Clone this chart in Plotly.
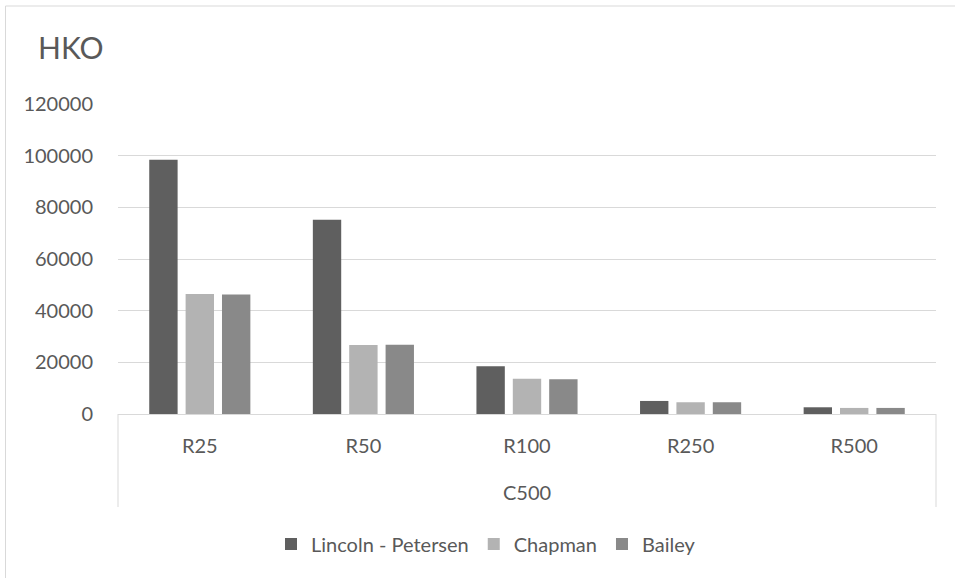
import plotly.graph_objects as go

# Estimates of population size (HKO, C500) by recapture level
categories = ["R25", "R50", "R100", "R250", "R500"]
group_label = "C500"
lincoln_petersen = [98400, 75200, 18500, 5050, 2600]
chapman = [46500, 26700, 13600, 4550, 2350]
bailey = [46300, 26800, 13500, 4550, 2350]

series = [
    ("Lincoln - Petersen", lincoln_petersen, "#5f5f5f"),
    ("Chapman", chapman, "#b3b3b3"),
    ("Bailey", bailey, "#898989"),
]

TEXT = "#595959"
GRID = "#d9d9d9"
FONT = "Lato"

fig = go.Figure()
for name, values, color in series:
    fig.add_trace(go.Bar(
        x=categories, y=values, name=name,
        marker=dict(color=color, line=dict(width=0)),
    ))

W, H = 955, 578
ml, mr, mt, mb = 118, 19, 104, 164
plot_h = H - mt - mb


def py(pixel_y):
    # convert a page pixel row to paper coordinates
    return (H - mb - pixel_y) / plot_h


fig.update_layout(
    width=W, height=H,
    margin=dict(l=ml, r=mr, t=mt, b=mb, pad=0),
    paper_bgcolor="white", plot_bgcolor="white",
    font=dict(family=FONT, size=20, color=TEXT),
    barmode="group", bargap=0.333, bargroupgap=0.22,
    title=dict(text="HKO", x=38 / W, xanchor="left", xref="container",
               y=1 - 48 / H, yanchor="middle", yref="container",
               font=dict(family=FONT, size=30, color=TEXT)),
    xaxis=dict(showline=True, linecolor=GRID, linewidth=1, ticks="",
               showgrid=False, ticklabelstandoff=14,
               tickfont=dict(size=20, color=TEXT)),
    yaxis=dict(range=[0, 120000], dtick=20000, showgrid=True,
               gridcolor=GRID, gridwidth=1, zeroline=False, showline=False,
               ticks="", ticklabelstandoff=24, tickformat="d",
               tickfont=dict(size=20, color=TEXT)),
    legend=dict(orientation="h", x=(486 - ml) / (W - ml - mr), xanchor="center",
                y=py(544), yanchor="middle", font=dict(size=20, color=TEXT),
                bgcolor="rgba(0,0,0,0)"),
    showlegend=True,
)

# category group label under the tick labels
fig.add_annotation(text=group_label, x=0.5, xref="paper", y=py(492), yref="paper",
                   xanchor="center", yanchor="middle", showarrow=False,
                   font=dict(size=20, color=TEXT))

# side lines of the two-level category axis
for xp in (0, 1):
    fig.add_shape(type="line", xref="paper", yref="paper",
                  x0=xp, x1=xp, y0=0, y1=py(507),
                  line=dict(color=GRID, width=1))

# chart area border (top and left edges)
x_left = (5.5 - ml) / (W - ml - mr)
x_right = (W + 5 - ml) / (W - ml - mr)
fig.add_shape(type="line", xref="paper", yref="paper",
              x0=x_left, x1=x_right, y0=py(6), y1=py(6),
              line=dict(color=GRID, width=1))
fig.add_shape(type="line", xref="paper", yref="paper",
              x0=x_left, x1=x_left, y0=py(6), y1=py(H + 5),
              line=dict(color=GRID, width=1))

fig.write_html("out.html")
